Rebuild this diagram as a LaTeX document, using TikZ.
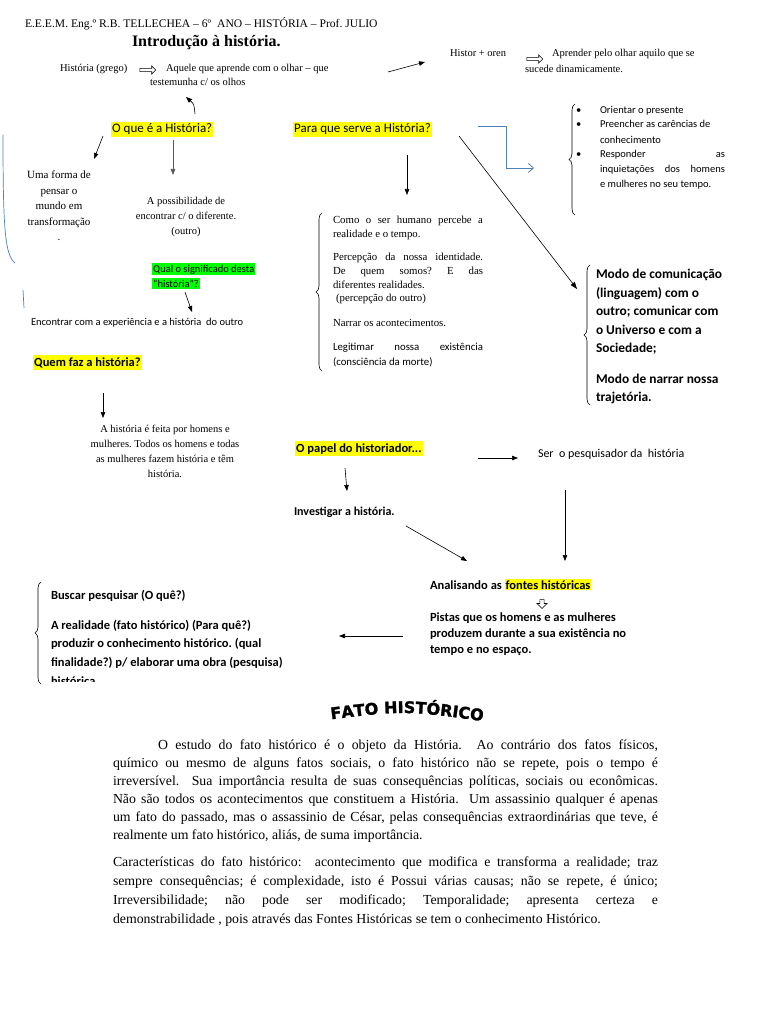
\documentclass[tikz,border=0pt]{standalone}
\usepackage{fontspec}
\setmainfont{Liberation Serif}
\newfontfamily\calf{Carlito}
\newfontfamily\heavyf{DejaVu Sans}[BoldFeatures={FakeBold=1.6}]
\usetikzlibrary{arrows.meta,decorations.pathreplacing,decorations.text,shapes.arrows}
\definecolor{yel}{HTML}{FFFF00}
\definecolor{grn}{HTML}{00FF00}
\definecolor{blu}{HTML}{4F81BD}
\newcommand\fsz[2]{\fontsize{#1}{#2}\selectfont}
\newcommand\jline[2]{\makebox[#1][s]{#2}}
\frenchspacing
\tikzset{
  tx/.style={anchor=base west, inner sep=0pt, outer sep=0pt},
  hly/.style={fill=yel, inner xsep=1pt, inner ysep=2pt, anchor=base west},
  hlg/.style={fill=grn, inner xsep=1pt, inner ysep=1.5pt, anchor=base west},
  arr/.style={-{Triangle[length=6pt,width=4.5pt]}, line width=0.6pt},
  brc/.style={decorate, decoration={brace, amplitude=6pt}, line width=0.6pt},
  hollow/.style={single arrow, draw, line width=0.6pt, inner sep=1.3pt, minimum height=16pt, single arrow head extend=2.5pt, single arrow head indent=0pt},
  sm/.style={font=\fsz{10.5}{15}},
  par/.style={font=\fsz{13.8}{15}},
  cal/.style={font=\calf\fsz{#1}{#1}},
  calb/.style={font=\calf\bfseries\fsz{#1}{#1}},
}
\begin{document}
\begin{tikzpicture}[x=1pt,y=-1pt]
\useasboundingbox (0,0) rectangle (768,1024);
\fill[white] (0,0) rectangle (768,1024);

% header
\node[tx, font=\fsz{11.6}{14}] (hdr) at (25,28) {E.E.E.M. Eng.º R.B. TELLECHEA – 6º~ ANO – HISTÓRIA – Prof. JULIO};
\node[tx, font=\fsz{16}{18}\bfseries] (ttl) at (132,47) {Introdução à história.};

\node[tx, sm] (hg) at (60,72) {História (grego)};
\node[hollow] (ha1) at (147,70) {};
\node[tx, sm] (aq1) at (166,72) {Aquele que aprende com o olhar – que};
\node[tx, sm] (aq2) at (150,86) {testemunha c/ os olhos};

\node[tx, sm] (ho) at (450,57) {Histor + oren};
\node[hollow] (ha2) at (534,59) {};
\node[tx, sm] (ap1) at (552,57) {Aprender pelo olhar aquilo que se};
\node[tx, sm] (ap2) at (525,73) {sucede dinamicamente.};
\coordinate (c1a) at (388,72); \coordinate (c1b) at (425,62);
\draw[arr] (c1a) -- (c1b);

% main questions
\node[hly, cal=13] (q1) at (111,133) {O que é a História?};
\node[hly, cal=13] (q2) at (293,133) {Para que serve a História?};

\coordinate (c2a) at (195,114); \coordinate (c2b) at (186,97);
\draw[arr] (c2a) .. controls (194,104) .. (c2b);
\coordinate (c3a) at (103,136); \coordinate (c3b) at (94,159);
\draw[arr] (c3a) -- (c3b);
\coordinate (c4a) at (173,140); \coordinate (c4b) at (173,175);
\draw[arr, gray!70!black] (c4a) -- (c4b);

\node[anchor=north, inner sep=0pt, align=center, font=\fsz{11}{15.5}] (uf) at (59,171) {Uma forma de\\pensar o\\mundo em\\transformação\\.};
\node[anchor=north, inner sep=0pt, align=center, font=\fsz{10.5}{15}] (pos) at (186,197) {A possibilidade de\\encontrar c/ o diferente.\\(outro)};

% blue marks on left
\draw[blu, line width=0.7pt] (3,135) .. controls (3,230) and (5,255) .. (15,263);
\draw[blu, line width=0.7pt] (23,290) -- (24,308);

\node[hlg, cal=10.5] (qs1) at (152,272) {Qual o significado desta};
\node[hlg, cal=10.5] (qs2) at (152,287) {“história”?};
\coordinate (c5a) at (185,292); \coordinate (c5b) at (192,312);
\draw[arr] (c5a) -- (c5b);
\node[tx, cal=10.5] (enc) at (31,325) {Encontrar com a experiência e a história~ do outro};

% middle block
\coordinate (c6a) at (407,155); \coordinate (c6b) at (407,195);
\draw[arr] (c6a) -- (c6b);
\draw[brc] (322,371) -- (322,213);
\node[tx, font=\fsz{10.8}{12}] (m1) at (333,223) {\jline{150pt}{Como o ser humano percebe a}};
\node[tx, font=\fsz{10.8}{12}] (m2) at (333,237) {realidade e o tempo.};
\node[tx, font=\fsz{10.8}{12}] (m3) at (333,260) {\jline{150pt}{Percepção da nossa identidade.}};
\node[tx, font=\fsz{10.8}{12}] (m4) at (333,274) {\jline{150pt}{De quem somos? E das}};
\node[tx, font=\fsz{10.8}{12}] (m5) at (333,288) {diferentes realidades.};
\node[tx, font=\fsz{10.8}{12}] (m6) at (336,301) {(percepção do outro)};
\node[tx, font=\fsz{10.8}{12}] (m7) at (333,326) {Narrar os acontecimentos.};
\node[tx, cal=10.8] (m8) at (333,350) {\jline{150pt}{Legitimar nossa existência}};
\node[tx, cal=10.8] (m9) at (333,365) {(consciência da morte)};

% blue elbow and bullets
\coordinate (b0) at (478,126); \coordinate (b9) at (534,168);
\draw[blu, line width=0.8pt, -{Straight Barb[length=5pt,width=9pt]}] (b0) -- (506,126) -- (506,168) -- (b9);
\draw[brc] (575,215) -- (575,104);
\node[tx, cal=10.5] (bd1) at (576,114) {•};
\node[tx, cal=10.5] (bu1) at (600,114) {Orientar o presente};
\node[tx, cal=10.5] (bd2) at (576,128) {•};
\node[tx, cal=10.5] (bu2) at (600,128) {Preencher as carências de};
\node[tx, cal=10.5] (bu2b) at (600,144) {conhecimento};
\node[tx, cal=10.5] (bd3) at (576,158) {•};
\node[tx, cal=10.5] (bu3) at (600,158) {\jline{125pt}{Responder as}};
\node[tx, cal=10.5] (bu3b) at (600,173) {\jline{125pt}{inquietações dos homens}};
\node[tx, cal=10.5] (bu3c) at (600,188) {e mulheres no seu tempo.};

% diagonal to right brace
\coordinate (c7a) at (459,136); \coordinate (c7b) at (577,289);
\draw[line width=0.6pt, -{Triangle[length=7pt,width=5pt]}] (c7a) -- (c7b);
\draw[brc] (590,405) -- (590,265);
\node[tx, calb=13.4] (r1) at (596,278) {Modo de comunicação};
\node[tx, calb=13.4] (r2) at (596,297) {(linguagem) com o};
\node[tx, calb=13.4] (r3) at (596,315) {outro; comunicar com};
\node[tx, calb=13.4] (r4) at (596,334) {o Universo e com a};
\node[tx, calb=13.4] (r5) at (596,352) {Sociedade;};
\node[tx, calb=13.4] (r6) at (596,383) {Modo de narrar nossa};
\node[tx, calb=13.4] (r7) at (596,401) {trajetória.};

% quem faz
\node[hly, calb=12.5] (qf) at (33,366) {Quem faz a história?};
\coordinate (c8a) at (103,393); \coordinate (c8b) at (103,418);
\draw[arr] (c8a) -- (c8b);
\node[anchor=north, inner sep=0pt, align=center, font=\fsz{10.5}{15}] (hf) at (165,425) {A história é feita por homens e\\mulheres. Todos os homens e todas\\as mulheres fazem história e têm\\história.};

% historiador
\node[hly, calb=12.5] (ph) at (295,452) {O papel do historiador...};
\coordinate (c9a) at (478,458); \coordinate (c9b) at (518,458);
\draw[arr] (c9a) -- (c9b);
\node[tx, cal=12] (ser) at (538,457) {Ser~ o pesquisador da~ história};
\coordinate (c10a) at (345,468); \coordinate (c10b) at (347,491);
\draw[arr] (c10a) -- (c10b);
\node[tx, calb=12] (inv) at (294,515) {Investigar a história.};
\coordinate (c11a) at (406,526); \coordinate (c11b) at (467,561);
\draw[arr] (c11a) -- (c11b);
\coordinate (c12a) at (565,490); \coordinate (c12b) at (565,561);
\draw[arr] (c12a) -- (c12b);

\node[tx, calb=12.5] (ana) at (430,589) {Analisando as {\setlength\fboxsep{1pt}\colorbox{yel}{fontes históricas}}};
\node[hollow, shape border rotate=270, minimum height=9pt, single arrow head extend=3pt, inner sep=1.8pt] (ha3) at (542,603) {};
\node[tx, calb=12.5] (pi1) at (430,621) {Pistas que os homens e as mulheres};
\node[tx, calb=12.5] (pi2) at (430,637) {produzem durante a sua existência no};
\node[tx, calb=12.5] (pi3) at (430,653) {tempo e no espaço.};
\coordinate (c13a) at (403,636); \coordinate (c13b) at (339,636);
\draw[arr] (c13a) -- (c13b);

\draw[brc] (41,684) -- (41,582);
\begin{scope}
\clip (0,560) rectangle (420,681);
\node[tx, calb=12.5] (bp1) at (51,599) {Buscar pesquisar (O quê?)};
\node[tx, calb=12.5] (bp2) at (51,629) {A realidade (fato histórico) (Para quê?)};
\node[tx, calb=12.5] (bp3) at (51,647) {produzir o conhecimento histórico. (qual};
\node[tx, calb=12.5] (bp4) at (51,666) {finalidade?) p/ elaborar uma obra (pesquisa)};
\node[tx, calb=12.5] (bp5) at (51,685) {histórica};
\end{scope}

% FATO HISTORICO
\path[decorate, decoration={text along path, text align=center,
  text={|\heavyf\bfseries\fsz{16}{16}|FATO HISTÓRICO}}]
  (318,721) .. controls (405,710) .. (496,723);

% paragraph
\node[tx, par] (p1) at (158,749) {\jline{500pt}{O estudo do fato histórico é o objeto da História.\ \ Ao contrário dos fatos físicos,}};
\node[tx, par] (p2) at (113,767) {\jline{545pt}{químico ou mesmo de alguns fatos sociais, o fato histórico não se repete, pois o tempo é}};
\node[tx, par] (p3) at (113,785) {\jline{545pt}{irreversível.\ \ Sua importância resulta de suas consequências políticas, sociais ou econômicas.}};
\node[tx, par] (p4) at (113,803) {\jline{545pt}{Não são todos os acontecimentos que constituem a História.\ \ Um assassinio qualquer é apenas}};
\node[tx, par] (p5) at (113,821) {\jline{545pt}{um fato do passado, mas o assassinio de César, pelas consequências extraordinárias que teve, é}};
\node[tx, par] (p6) at (113,839) {realmente um fato histórico, aliás, de suma importância.};

\node[tx, par] (s1) at (113,866) {\jline{545pt}{Características do fato histórico:\ \ acontecimento que modifica e transforma a realidade; traz}};
\node[tx, par] (s2) at (113,885) {\jline{545pt}{sempre consequências; é complexidade, isto é Possui várias causas; não se repete, é único;}};
\node[tx, par] (s3) at (113,904) {\jline{545pt}{Irreversibilidade; não pode ser modificado; Temporalidade; apresenta certeza e}};
\node[tx, par] (s4) at (113,923) {demonstrabilidade , pois através das Fontes Históricas se tem o conhecimento Histórico.};
\end{tikzpicture}
\end{document}
